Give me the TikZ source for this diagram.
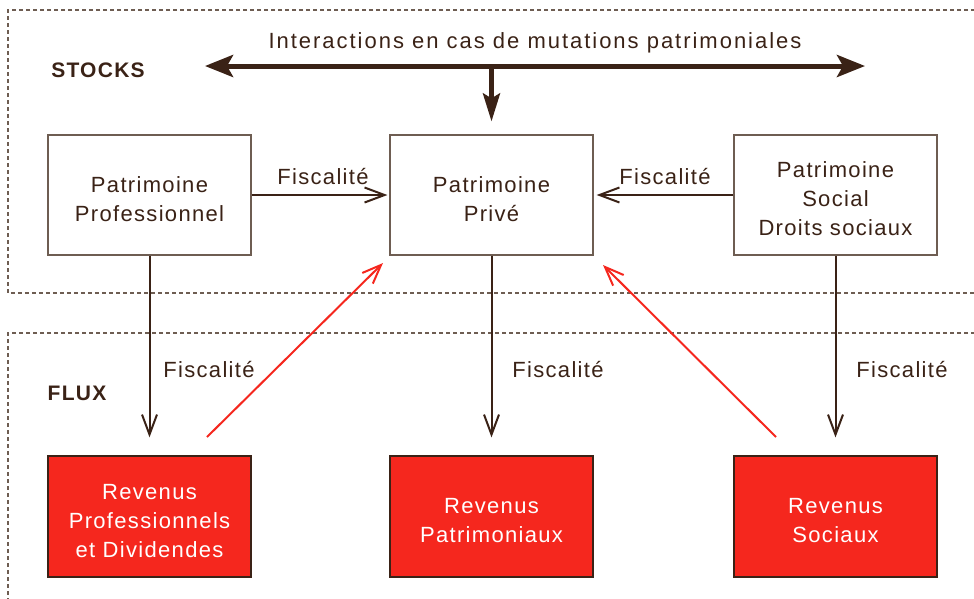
\documentclass[tikz,border=0pt]{standalone}
\usepackage{fontspec}
\setmainfont{Liberation Sans}[LetterSpace=6]
\newfontfamily\titlefont{Liberation Sans}[LetterSpace=9]
\usetikzlibrary{arrows.meta}
\definecolor{brn}{HTML}{3A2216}
\definecolor{bordr}{HTML}{6E5D52}
\definecolor{rd}{HTML}{F5271E}
\newcommand\boxtxt[1]{\raisebox{-6pt}[\height][\depth]{\begin{tabular}{@{}c@{}}#1\end{tabular}}}
\tikzset{
  every node/.style={text=brn},
  stockbox/.style={draw=bordr, line width=1.2pt, fill=white, minimum width=203pt, minimum height=120pt, align=center, inner sep=0pt, font=\fontsize{22}{29}\selectfont},
  fluxbox/.style={draw=brn, line width=1.2pt, fill=rd, minimum width=203pt, minimum height=121pt, align=center, inner sep=0pt, text=white, font=\fontsize{22}{29}\selectfont},
  lbl/.style={font=\fontsize{22}{26}\selectfont, inner sep=0pt},
  sect/.style={font=\bfseries\fontsize{21}{24}\selectfont, inner sep=0pt},
  zone/.style={draw=bordr, line width=1.1pt, dash pattern=on 4pt off 3pt},
  flow/.style={draw=brn, line width=2pt, -{Straight Barb[length=20pt, width=15pt, line width=2pt]}},
  redflow/.style={draw=rd, line width=2pt, -{Straight Barb[length=19pt, width=15pt, line width=2pt]}},
  bigflow/.style={draw=brn, line width=5pt},
}
\begin{document}
\begin{tikzpicture}[x=1pt, y=-1pt]
\useasboundingbox (0,0) rectangle (974,598);
% zones
\draw[zone] (975,10) -- (8,10) -- (8,293) -- (975,293);
\draw[zone] (975,333) -- (8,333) -- (8,599);
% section labels
\node[sect] (stocks) at (98,70) {STOCKS};
\node[sect] (flux) at (77,393) {FLUX};
% stock boxes
\node[stockbox] (pp) at (149.5,195) {\boxtxt{Patrimoine\\Professionnel}};
\node[stockbox] (pv) at (491.5,195) {\boxtxt{Patrimoine\\Privé}};
\node[stockbox] (ps) at (835.5,195) {\boxtxt{Patrimoine\\Social\\Droits sociaux}};
% flux boxes
\node[fluxbox] (rp) at (149.5,516.5) {\boxtxt{Revenus\\Professionnels\\et Dividendes}};
\node[fluxbox] (rv) at (491.5,516.5) {\boxtxt{Revenus\\Patrimoniaux}};
\node[fluxbox] (rs) at (835.5,516.5) {\boxtxt{Revenus\\Sociaux}};
% top interaction arrow
\node[lbl, font=\titlefont\fontsize{22}{26}\selectfont] (title) at (535,43) {Interactions en cas de mutations patrimoniales};
\coordinate (bl) at (205,66);
\coordinate (br) at (865,66);
\coordinate (bm) at (491.5,66);
\draw[bigflow, {Stealth[length=28pt, width=22pt, inset=6pt]}-{Stealth[length=28pt, width=22pt, inset=6pt]}] (bl) -- (br);
\draw[draw=brn, line width=4.5pt, -{Stealth[length=28pt, width=17pt, inset=5pt]}, shorten >=13pt] (bm) -- (pv.north);
% horizontal fiscalité
\draw[flow, shorten >=2pt] (pp.east) -- (pv.west);
\draw[flow, shorten >=3pt] (ps.west) -- (pv.east);
\node[lbl] (f1) at (323,177) {Fiscalité};
\node[lbl] (f2) at (665,177) {Fiscalité};
% vertical fiscalité
\draw[flow, shorten >=18pt] (pp.south) -- (rp.north);
\draw[flow, shorten >=18pt] (pv.south) -- (rv.north);
\draw[flow, shorten >=18pt] (ps.south) -- (rs.north);
\node[lbl] (f3) at (209,369) {Fiscalité};
\node[lbl] (f4) at (558,369) {Fiscalité};
\node[lbl] (f5) at (902,369) {Fiscalité};
% red arrows
\coordinate (r1s) at (207,437);
\coordinate (r1e) at (383,263);
\coordinate (r2s) at (776,437);
\coordinate (r2e) at (603,265);
\draw[redflow] (r1s) -- (r1e);
\draw[redflow] (r2s) -- (r2e);
\end{tikzpicture}
\end{document}
